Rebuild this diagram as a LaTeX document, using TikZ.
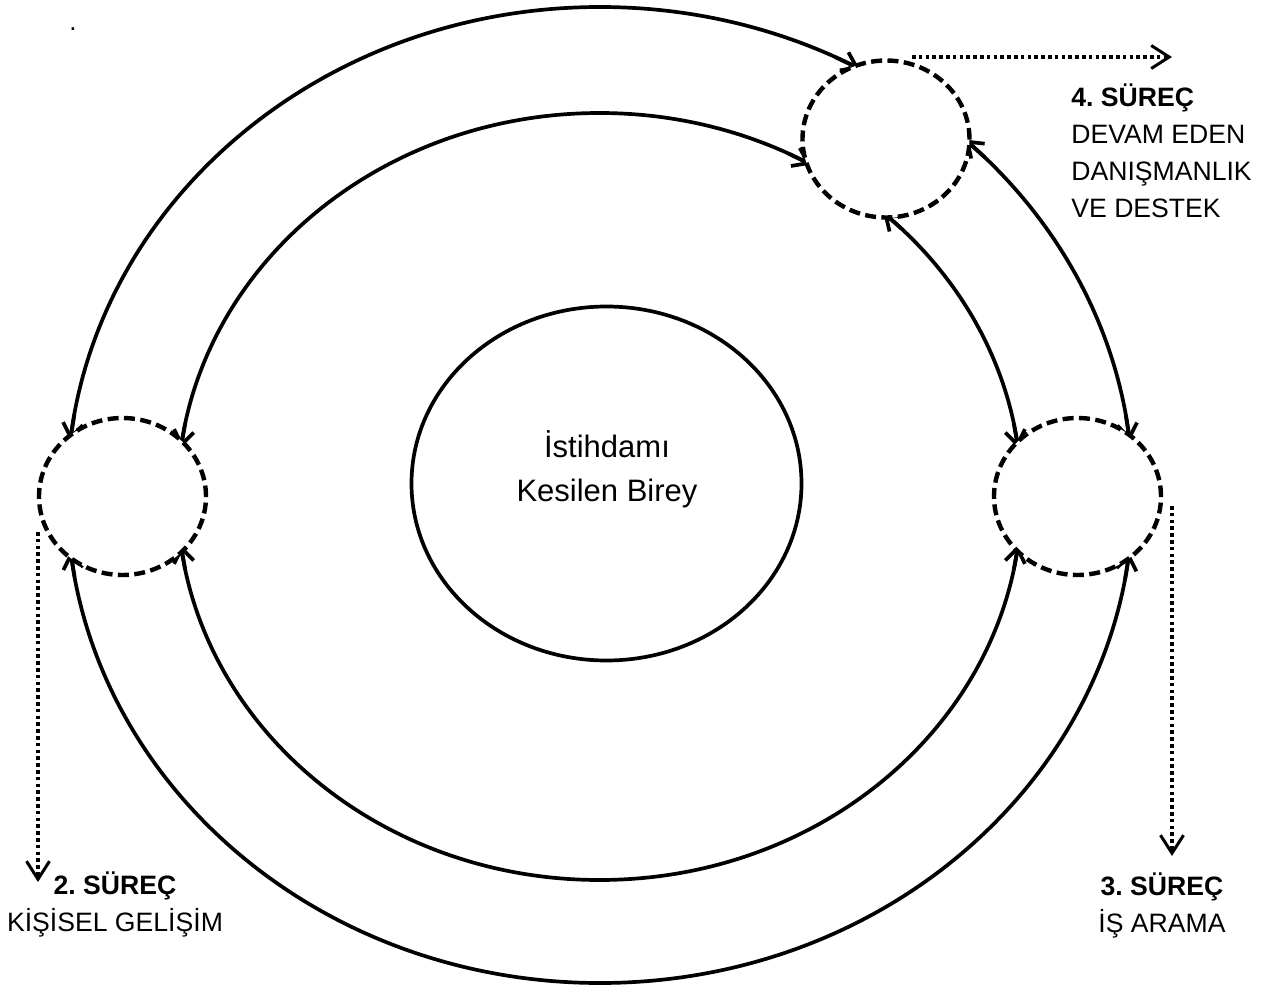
\documentclass[tikz,border=0pt]{standalone}
\usepackage{fontspec}
\setmainfont{Liberation Sans}
\usetikzlibrary{arrows.meta,shapes.geometric}
\frenchspacing
\begin{document}
\begin{tikzpicture}[x=0.5pt,y=-0.5pt,
  ring/.style={draw, ellipse, line width=1.85pt, inner sep=0pt},
  ringtip/.style={line width=1.85pt, line join=miter, -{Straight Barb[length=7pt,width=10pt]}},
  stage/.style={draw, ellipse, dash pattern=on 5.5pt off 2.7pt, line width=2.2pt, fill=white,
    minimum width=83.5pt, minimum height=78.5pt, inner sep=0pt},
  flow/.style={line width=1.9pt, dash pattern=on 1.8pt off 1.6pt,
    -{Straight Barb[length=9pt,width=11.5pt,line width=1.5pt]}},
  lab/.style={font=\fontsize{13.3}{18.5}\selectfont, inner sep=0pt},
]
\useasboundingbox (0,0) rectangle (1270,990);

% rings
\node[ring, minimum width=533pt, minimum height=488pt] (outer) at (600,495) {};
\node[ring, minimum width=422pt, minimum height=383.5pt] (middle) at (599.5,496.5) {};
\node[ring, minimum width=195pt, minimum height=177pt] (core) at (606.5,483.5) {};

% arrow tips of the rings (mostly hidden by the stage circles)
\foreach \s/\t in {189.5/186.4, 170.3/173.35, 350.6/353.65, 9.9/6.8, 296.2/299.15, 316.2/313.25}
  \draw[ringtip] ({600+533*cos(\s)},{495+488*sin(\s)}) -- ({600+533*cos(\t)},{495+488*sin(\t)});
\foreach \s/\t in {191/187.3, 169/172.7, 349/352.7, 11/7.3, 296.6/300.05, 315.7/312.25}
  \draw[ringtip] ({599.5+422*cos(\s)},{496.5+383.5*sin(\s)}) -- ({599.5+422*cos(\t)},{496.5+383.5*sin(\t)});

% stages
\node[stage] (s2) at (122.5,496.5) {};
\node[stage] (s3) at (1077.5,496.5) {};
\node[stage] (s4) at (886,139) {};

% dotted arrows
\coordinate (a4s) at (912,57);
\coordinate (a4e) at (1172,57);
\coordinate (a2s) at (38,532);
\coordinate (a2e) at (38,882);
\coordinate (a3s) at (1172,506);
\coordinate (a3e) at (1172,856);
\draw[flow] (a4s) -- (a4e);
\draw[flow] (a2s) -- (a2e);
\draw[flow] (a3s) -- (a3e);

% texts (base anchor = baseline of the last line)
\node[font=\fontsize{15.5}{22}\selectfont, align=center, anchor=base, inner sep=0pt] (ct) at (607,501) {İstihdamı\\Kesilen Birey};
\node[lab, align=left, anchor=base west] (l4) at (1071,218) {\textbf{4. SÜREÇ}\\DEVAM EDEN\\DANIŞMANLIK\\VE DESTEK};
\node[lab, align=center, anchor=base] (l2) at (115,931) {\textbf{2. SÜREÇ}\\KİŞİSEL GELİŞİM};
\node[lab, align=center, anchor=base] (l3) at (1162,932) {\textbf{3. SÜREÇ}\\İŞ ARAMA};
\node[font=\fontsize{13}{15}\selectfont, inner sep=0pt] (dot) at (73,29) {.};
\end{tikzpicture}
\end{document}
